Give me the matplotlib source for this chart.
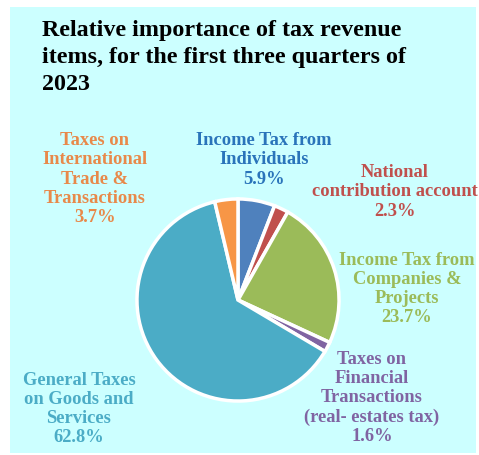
import matplotlib.pyplot as plt
from matplotlib.patches import Rectangle

# Datos
labels = ["Income Tax from\nIndividuals", "National\ncontribution account",
          "Income Tax from\nCompanies &\nProjects",
          "Taxes on\nFinancial\nTransactions\n(real- estates tax)",
          "General Taxes\non Goods and\nServices",
          "Taxes on\nInternational\nTrade &\nTransactions"]
shares = [5.9, 2.3, 23.7, 1.6, 62.8, 3.7]
colors = ["#4F81BD", "#C0504D", "#9BBB59", "#8064A2", "#4BACC6", "#F79646"]
text_colors = ["#2A74BA", "#C0504D", "#9BBB59", "#8064A2", "#4BACC6", "#E8894A"]
# posiciones de las etiquetas en pixeles (x, y desde arriba)
label_pos = [(264, 160), (395, 192), (407, 289), (372, 398), (79, 409), (95, 179)]

W, H = 479, 455
fig = plt.figure(figsize=(W / 100, H / 100), dpi=100, facecolor="white")
fig.patches.append(Rectangle((10 / W, 2 / H), 466 / W, 446 / H,
                             transform=fig.transFigure, facecolor="#CCFFFF",
                             edgecolor="none", zorder=-5))

ax = fig.add_axes([0, 0, 1, 1])
ax.set_zorder(2)
ax.pie(shares, colors=colors, startangle=90, counterclock=False,
       explode=[0.04] * len(shares), center=(238, H - 300), radius=101,
       wedgeprops=dict(edgecolor="white", linewidth=2.5))
ax.set_xlim(0, W)
ax.set_ylim(0, H)
ax.set_aspect("auto")
ax.axis("off")

font = ["Liberation Serif", "DejaVu Serif"]
for lab, val, c, (x, y) in zip(labels, shares, text_colors, label_pos):
    ax.text(x, H - y, f"{lab}\n{val:.1f}%", color=c, ha="center", va="center",
            ma="center", fontsize=13.3, fontweight="bold", family=font,
            linespacing=1.17)

fig.text(42 / W, 1 - 20 / H,
         "Relative importance of tax revenue\nitems, for the first three quarters of\n2023",
         ha="left", va="top", fontsize=17.3, fontweight="bold", family=font,
         linespacing=1.36, color="black")

fig.savefig("out.png", dpi=100, facecolor="white")
